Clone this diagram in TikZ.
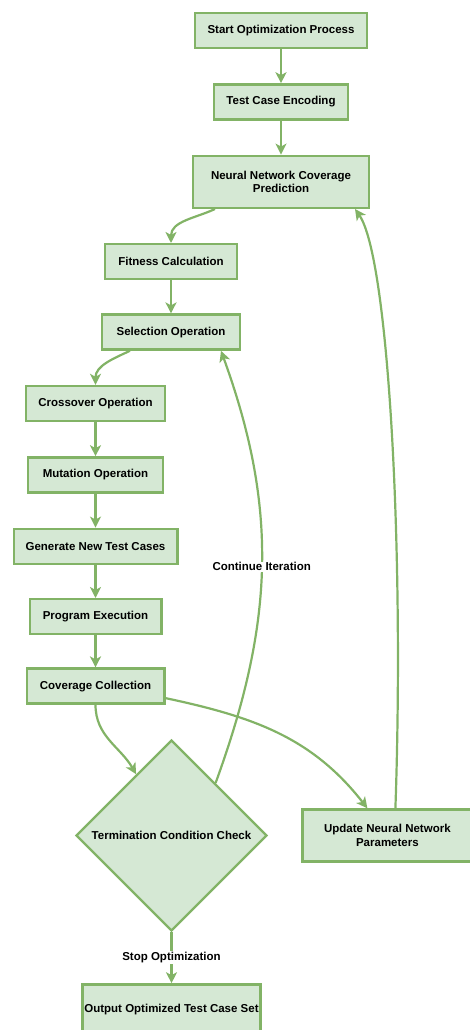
\documentclass[tikz,border=0pt]{standalone}
\usepackage{fontspec}
\setmainfont{Liberation Sans}
\usetikzlibrary{shapes.geometric, arrows.meta, positioning}
\definecolor{flowgreen}{RGB}{130,179,102}
\definecolor{flowfill}{RGB}{213,232,212}
\tikzset{
  % Process block (parameterized by width)
  flowblock/.style={
    rectangle, minimum width=#1, minimum height=35pt, inner sep=2pt,
    align=center, font=\fontsize{11.5}{13.5}\selectfont\bfseries,
    draw=flowgreen, fill=flowfill, line width=2.4pt
  },
  flowblock/.default=134pt,
  % Decision diamond
  decision/.style={
    diamond, aspect=1, minimum width=191pt, minimum height=191pt, inner sep=0pt,
    align=center, font=\fontsize{11.5}{13.5}\selectfont\bfseries,
    draw=flowgreen, fill=flowfill, line width=2.4pt
  },
  flowarrow/.style={-{Stealth[length=11pt, width=11pt, inset=3pt]}, line width=2.2pt, draw=flowgreen},
  flowlabel/.style={font=\fontsize{11.5}{13.5}\selectfont\bfseries, fill=white, inner sep=1pt}
}

\begin{document}
\begin{tikzpicture}[x=1pt, y=1pt]
  \useasboundingbox (0,0) rectangle (469,-1030);

  % Main column
  \node[flowblock=171.6pt] (start) at (281,-30.5) {Start Optimization Process};
  \node[flowblock=133.6pt, below=34pt of start] (encode) {Test Case Encoding};
  \node[flowblock=175.6pt, minimum height=52pt, below=34pt of encode] (predict)
    {Neural Network Coverage\\Prediction};
  \node[flowblock=131.6pt, below=34pt of predict, xshift=-110pt] (fitness) {Fitness Calculation};
  \node[flowblock=137.6pt, below=33pt of fitness] (select) {Selection Operation};

  % Genetic operators
  \node[flowblock=138.6pt, below=34pt of select, xshift=-75.5pt] (cross) {Crossover Operation};
  \node[flowblock=134.6pt, below=34pt of cross] (mutate) {Mutation Operation};
  \node[flowblock=163.6pt, below=34pt of mutate] (generate) {Generate New Test Cases};
  \node[flowblock=131.6pt, below=33pt of generate] (execute) {Program Execution};
  \node[flowblock=137.6pt, below=32pt of execute] (collect) {Coverage Collection};

  % Decision and outputs
  \node[decision, below=34pt of collect, xshift=76pt] (check) {Termination Condition Check};
  \node[flowblock=170pt, minimum height=52pt, right=33pt of check] (update)
    {Update Neural Network\\Parameters};
  \node[flowblock=177.6pt, minimum height=50pt, below=51pt of check] (output)
    {Output Optimized Test Case Set};

  % Straight connectors
  \draw[flowarrow] (start) -- (encode);
  \draw[flowarrow] (encode) -- (predict);
  \draw[flowarrow] (fitness) -- (select);
  \draw[flowarrow] (cross) -- (mutate);
  \draw[flowarrow] (mutate) -- (generate);
  \draw[flowarrow] (generate) -- (execute);
  \draw[flowarrow] (execute) -- (collect);

  % Curved connectors
  \draw[flowarrow] ([xshift=23pt]predict.south west) to[out=-155, in=90] (fitness.north);
  \draw[flowarrow] ([xshift=29pt]select.south west) to[out=-155, in=90] (cross.north);
  \draw[flowarrow] (collect.south) to[out=-90, in=120] (check.120);
  \draw[flowarrow] ([yshift=-12pt]collect.east) to[out=-12, in=128] ([xshift=-20pt]update.north);
  \draw[flowarrow] (check.50) to[out=70, in=-70]
    node[flowlabel, midway] {Continue Iteration} ([xshift=-20pt]select.south east);
  \draw[flowarrow] ([xshift=8pt]update.north) to[out=88, in=-55, out looseness=1.1, in looseness=0.25]
    ([xshift=-15pt]predict.south east);
  \draw[flowarrow] (check) -- node[flowlabel] {Stop Optimization} (output);
\end{tikzpicture}
\end{document}
